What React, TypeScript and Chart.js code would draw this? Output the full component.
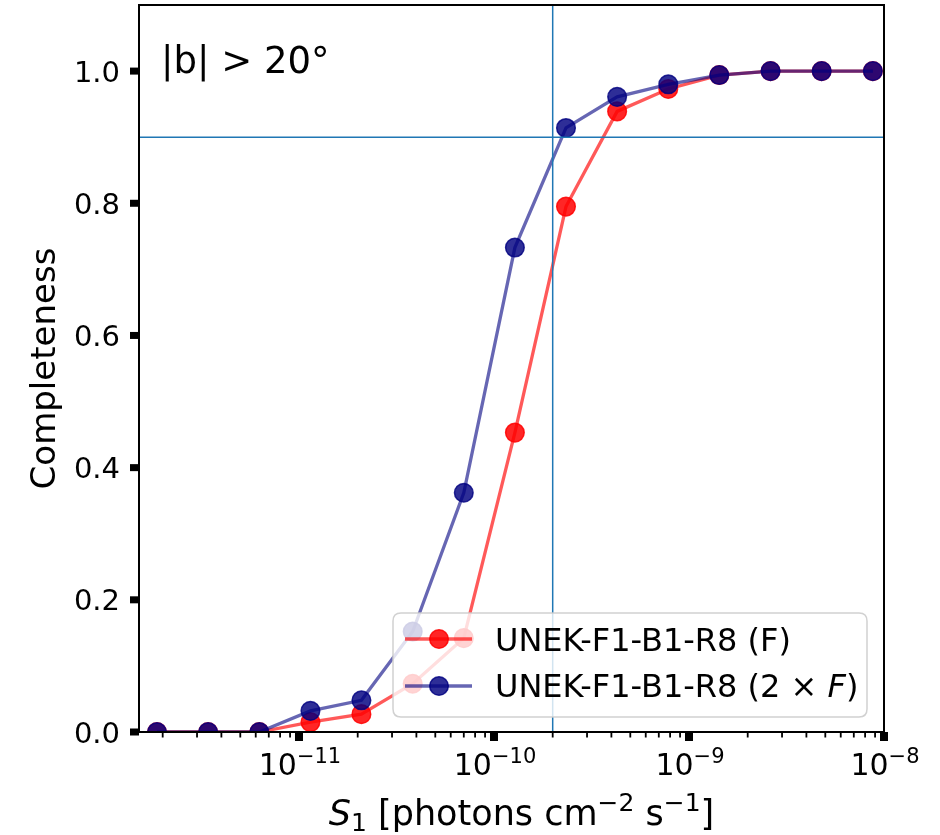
import React, { useEffect, useRef } from "react";
import { Chart, registerables } from "chart.js";

Chart.register(...registerables);

// ---- data ----
const fluxBins = [
  1.87e-12, 3.42e-12, 6.26e-12, 1.145e-11, 2.09e-11, 3.83e-11, 7.0e-11, 1.28e-10,
  2.34e-10, 4.28e-10, 7.83e-10, 1.43e-9, 2.62e-9, 4.79e-9, 8.77e-9,
];
const completenessF = [0, 0, 0, 0.015, 0.027, 0.073, 0.142, 0.453, 0.795, 0.939, 0.973, 0.994, 1, 1, 1];
const completeness2F = [0, 0, 0, 0.032, 0.048, 0.152, 0.362, 0.733, 0.914, 0.961, 0.98, 0.994, 1, 1, 1];
const labelF = "UNEK-F1-B1-R8 (F)";
const label2FPrefix = "UNEK-F1-B1-R8 (2 \u00d7 ";
const label2FItalic = "F";
const label2FSuffix = ")";
const yTicks = [0, 0.2, 0.4, 0.6, 0.8, 1.0];
const yTickLabels = ["0.0", "0.2", "0.4", "0.6", "0.8", "1.0"];
const xMajorExps = [-11, -10, -9, -8];
const xMin = 1.512e-12;
const xMax = 1.0e-8;
const yMin = 0;
const yMax = 1.1;
const thresholdFlux = 2e-10;
const thresholdCompleteness = 0.9;
const regionLabel = "|b| > 20\u00b0";
const yTitle = "Completeness";

const FONT = "'DejaVu Sans', sans-serif";
const RED_LINE = "rgba(255,0,0,0.65)";
const RED_MARK = "rgba(255,0,0,0.85)";
const BLUE_LINE = "rgba(0,0,128,0.6)";
const BLUE_MARK = "rgba(0,0,128,0.82)";
const C0 = "#1f77b4";
const MARK_R = 9.3;

type Run = { text: string; font: string; dy?: number };

function runsWidth(ctx: CanvasRenderingContext2D, runs: Run[]) {
  let w = 0;
  for (const r of runs) {
    ctx.font = r.font;
    w += ctx.measureText(r.text).width;
  }
  return w;
}

function drawRuns(ctx: CanvasRenderingContext2D, runs: Run[], x: number, y: number, align: string) {
  const total = runsWidth(ctx, runs);
  let cx = align === "center" ? x - total / 2 : align === "right" ? x - total : x;
  ctx.textAlign = "left";
  ctx.textBaseline = "alphabetic";
  for (const r of runs) {
    ctx.font = r.font;
    ctx.fillText(r.text, cx, y + (r.dy || 0));
    cx += ctx.measureText(r.text).width;
  }
}

function drawMarker(ctx: CanvasRenderingContext2D, x: number, y: number, color: string) {
  ctx.beginPath();
  ctx.arc(x, y, MARK_R, 0, Math.PI * 2);
  ctx.fillStyle = color;
  ctx.fill();
  ctx.lineWidth = 1.5;
  ctx.strokeStyle = color;
  ctx.stroke();
}

const decorPlugin = {
  id: "decor",
  afterDraw(chart: any) {
    const ctx: CanvasRenderingContext2D = chart.ctx;
    const xs = chart.scales.x;
    const ys = chart.scales.y;
    const a = chart.chartArea;
    ctx.save();

    // reference lines
    ctx.beginPath();
    ctx.rect(a.left, a.top, a.right - a.left, a.bottom - a.top);
    ctx.clip();
    ctx.strokeStyle = C0;
    ctx.lineWidth = 1.5;
    const vx = xs.getPixelForValue(thresholdFlux);
    ctx.beginPath();
    ctx.moveTo(vx, a.top);
    ctx.lineTo(vx, a.bottom);
    ctx.stroke();
    const hy = ys.getPixelForValue(thresholdCompleteness);
    ctx.beginPath();
    ctx.moveTo(a.left, hy);
    ctx.lineTo(a.right, hy);
    ctx.stroke();

    // legend
    const lx0 = 393, ly0 = 613, lx1 = 867, ly1 = 717, rr = 8;
    ctx.beginPath();
    ctx.moveTo(lx0 + rr, ly0);
    ctx.lineTo(lx1 - rr, ly0);
    ctx.quadraticCurveTo(lx1, ly0, lx1, ly0 + rr);
    ctx.lineTo(lx1, ly1 - rr);
    ctx.quadraticCurveTo(lx1, ly1, lx1 - rr, ly1);
    ctx.lineTo(lx0 + rr, ly1);
    ctx.quadraticCurveTo(lx0, ly1, lx0, ly1 - rr);
    ctx.lineTo(lx0, ly0 + rr);
    ctx.quadraticCurveTo(lx0, ly0, lx0 + rr, ly0);
    ctx.closePath();
    ctx.fillStyle = "rgba(255,255,255,0.8)";
    ctx.fill();
    ctx.strokeStyle = "rgba(204,204,204,0.9)";
    ctx.lineWidth = 1.5;
    ctx.stroke();

    const rows = [
      { y: 639, line: RED_LINE, mark: RED_MARK, base: 651 },
      { y: 686, line: BLUE_LINE, mark: BLUE_MARK, base: 697 },
    ];
    rows.forEach((r) => {
      ctx.beginPath();
      ctx.moveTo(405, r.y);
      ctx.lineTo(472, r.y);
      ctx.strokeStyle = r.line;
      ctx.lineWidth = 3.3;
      ctx.stroke();
      drawMarker(ctx, 439, r.y, r.mark);
    });
    ctx.fillStyle = "#000";
    drawRuns(ctx, [{ text: labelF, font: `32px ${FONT}` }], 495, rows[0].base, "left");
    drawRuns(
      ctx,
      [
        { text: label2FPrefix, font: `32px ${FONT}` },
        { text: label2FItalic, font: `italic 32px ${FONT}` },
        { text: label2FSuffix, font: `32px ${FONT}` },
      ],
      495,
      rows[1].base,
      "left"
    );

    // region annotation
    drawRuns(ctx, [{ text: regionLabel, font: `37px ${FONT}` }], 161, 73, "left");
    ctx.restore();
    ctx.save();

    // frame
    ctx.strokeStyle = "#000";
    ctx.lineWidth = 2;
    ctx.strokeRect(a.left, a.top, a.right - a.left, a.bottom - a.top);

    // y ticks + labels
    ctx.fillStyle = "#000";
    yTicks.forEach((v, i) => {
      const py = ys.getPixelForValue(v);
      ctx.fillRect(a.left - 9, py - 3.5, 9, 7);
      drawRuns(ctx, [{ text: yTickLabels[i], font: `29px ${FONT}` }], 120, py + 10.5, "right");
    });

    // x minor ticks
    for (let e = -13; e <= -8; e++) {
      for (let k = 2; k <= 9; k++) {
        const v = k * Math.pow(10, e);
        if (v < xMin || v > xMax) continue;
        const px = xs.getPixelForValue(v);
        ctx.fillRect(px - 0.9, a.bottom, 1.8, 5.5);
      }
    }
    // x major ticks + labels
    xMajorExps.forEach((e) => {
      const v = Math.pow(10, e);
      const px = xs.getPixelForValue(v);
      ctx.fillRect(px - 4, a.bottom, 8, 9);
      drawRuns(
        ctx,
        [
          { text: "10", font: `30px ${FONT}` },
          { text: "\u2212" + String(-e), font: `21px ${FONT}`, dy: -12 },
        ],
        px + 1,
        775,
        "center"
      );
    });

    // x title
    const cxm = (a.left + a.right) / 2 + 10;
    drawRuns(
      ctx,
      [
        { text: "S", font: `italic 35px ${FONT}` },
        { text: "1", font: `25px ${FONT}`, dy: 6 },
        { text: " [photons cm", font: `35px ${FONT}` },
        { text: "\u22122", font: `25px ${FONT}`, dy: -14 },
        { text: " s", font: `35px ${FONT}` },
        { text: "\u22121", font: `25px ${FONT}`, dy: -14 },
        { text: "]", font: `35px ${FONT}` },
      ],
      cxm,
      825,
      "center"
    );

    // y title
    ctx.save();
    ctx.translate(55, (a.top + a.bottom) / 2);
    ctx.rotate(-Math.PI / 2);
    drawRuns(ctx, [{ text: yTitle, font: `34px ${FONT}` }], 0, 0, "center");
    ctx.restore();

    ctx.restore();
  },
};

export default function App() {
  const ref = useRef<HTMLCanvasElement | null>(null);
  useEffect(() => {
    if (!ref.current) return;
    const chart = new Chart(ref.current, {
      type: "line",
      data: {
        datasets: [
          {
            label: labelF,
            data: fluxBins.map((x, i) => ({ x, y: completenessF[i] })),
            borderColor: RED_LINE,
            borderWidth: 3.3,
            pointRadius: MARK_R,
            pointBorderWidth: 1.5,
            pointBackgroundColor: RED_MARK,
            pointBorderColor: RED_MARK,
            tension: 0,
            order: 2,
          },
          {
            label: "UNEK-F1-B1-R8 (2 x F)",
            data: fluxBins.map((x, i) => ({ x, y: completeness2F[i] })),
            borderColor: BLUE_LINE,
            borderWidth: 3.3,
            pointRadius: MARK_R,
            pointBorderWidth: 1.5,
            pointBackgroundColor: BLUE_MARK,
            pointBorderColor: BLUE_MARK,
            tension: 0,
            order: 1,
          },
        ],
      },
      options: {
        animation: false,
        responsive: false,
        events: [],
        layout: { autoPadding: false, padding: { left: 139, right: 56, top: 5, bottom: 103 } },
        scales: {
          x: { type: "logarithmic", min: xMin, max: xMax, display: false },
          y: { type: "linear", min: yMin, max: yMax, display: false },
        },
        plugins: { legend: { display: false }, tooltip: { enabled: false } },
      },
      plugins: [decorPlugin],
    } as any);
    return () => chart.destroy();
  }, []);
  return (
    <div style={{ position: "fixed", left: 0, top: 0, width: 940, height: 835, background: "#fff" }}>
      <canvas ref={ref} width={940} height={835} style={{ display: "block", width: 940, height: 835 }} />
    </div>
  );
}
